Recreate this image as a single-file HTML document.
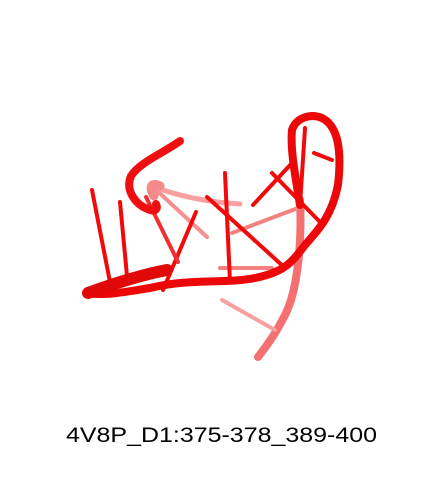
<!DOCTYPE html>
<html><head><meta charset="utf-8"><style>
html,body{margin:0;padding:0;background:#fff;width:440px;height:480px;overflow:hidden}
svg{display:block}
</style></head><body>
<svg width="440" height="480" viewBox="0 0 440 480" xmlns="http://www.w3.org/2000/svg">
<g fill="none" stroke-linecap="round">
<path d="M300,200 C302,240 298,290 285,315 C275,335 265,348 258,357" stroke="#f57070" stroke-width="8"/>
<path d="M152,186 C175,195 205,202 240,204" stroke="#f8a0a0" stroke-width="5"/>
<path d="M153,187 L207,237" stroke="#f69090" stroke-width="4"/>
<path d="M220,268 L272,268" stroke="#f48080" stroke-width="4"/>
<path d="M232,233 L298,208" stroke="#f48080" stroke-width="4"/>
<path d="M222,300 L275,330" stroke="#f8a0a0" stroke-width="4"/>
<path d="M154,196 C148,186 152,182 160,186" stroke="#f58a8a" stroke-width="9"/>
</g>
<g stroke="#f00a0a" stroke-width="4" stroke-linecap="round">
<line x1="92" y1="190" x2="110" y2="282"/>
<line x1="120" y1="202" x2="127" y2="276"/>
<line x1="225" y1="173" x2="230" y2="282"/>
<line x1="207" y1="197" x2="284" y2="267"/>
<line x1="196" y1="212" x2="163" y2="290"/>
<line x1="305" y1="128" x2="300" y2="205"/>
<line x1="314" y1="153" x2="332" y2="160"/>
<line x1="272" y1="173" x2="320" y2="222"/>
<line x1="253" y1="205" x2="292" y2="163"/>
<line x1="146" y1="197" x2="178" y2="262" stroke="#f03030"/>
</g>
<g fill="none" stroke-linecap="round">
<path d="M180,141 C165,152 140,162 131,176 C125,190 135,205 150,210 C156,212 158,208 156,204" stroke="#ee1010" stroke-width="8"/>
</g>
<g fill="none" stroke-linecap="round">
<path d="M300,205 C296,180 290,150 292,130 C296,118 310,113 322,118 C338,126 342,150 338,185 C332,215 320,228 305,245 C292,262 285,272 255,278 C225,284 190,278 150,288 C125,292 105,296 88,293" stroke="#ec0808" stroke-width="8"/>
<path d="M88,293 C110,285 140,275 167,270" stroke="#e00808" stroke-width="12"/>
</g>
<text x="66" y="442" textLength="311" lengthAdjust="spacingAndGlyphs" font-family="Liberation Sans, sans-serif" font-size="21" fill="#000">4V8P_D1:375-378_389-400</text>
</svg>
</body></html>
